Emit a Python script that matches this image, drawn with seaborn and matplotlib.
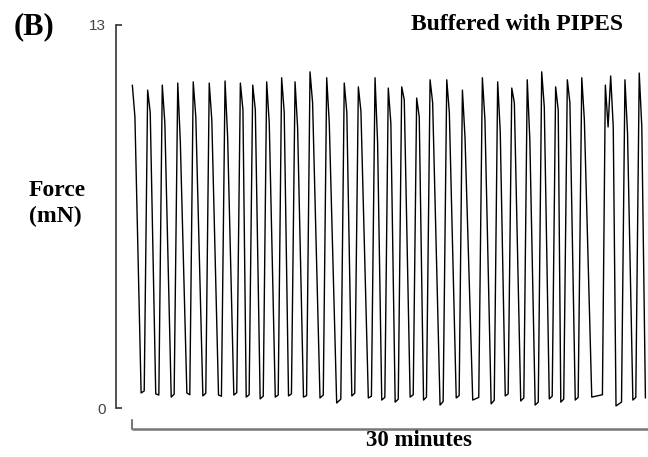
import matplotlib
matplotlib.use("Agg")
import matplotlib.pyplot as plt
import numpy as np
import pandas as pd
import seaborn as sns

# Contraction cycles of the muscle strip (time in minutes, force in mN)
peak_min = [0.02, 0.91, 1.76, 2.66, 3.56, 4.49, 5.41, 6.30, 7.02, 7.83,
            8.70, 9.48, 10.35, 11.32, 12.34, 13.16, 14.13, 14.90, 15.68, 16.55,
            17.33, 18.30, 19.21, 20.37, 21.26, 22.08, 22.98, 23.82, 24.63, 25.31,
            26.15, 27.83, 28.66, 29.49]
peak_mN = [10.96, 10.79, 10.96, 11.03, 11.07, 11.03, 11.10, 11.03, 10.96, 11.07,
           11.21, 11.07, 11.41, 11.21, 11.03, 10.90, 11.21, 10.86, 10.90, 10.52,
           11.14, 11.14, 10.79, 11.21, 11.07, 10.86, 11.14, 11.41, 10.90, 11.14,
           11.21, 11.27, 11.14, 11.37]
shoulder_min = [0.17, 1.06, 1.91, 2.81, 3.71, 4.64, 5.56, 6.45, 7.17, 7.98,
                8.85, 9.63, 10.50, 11.47, 12.49, 13.31, 14.28, 15.05, 15.83, 16.70,
                17.48, 18.45, 19.36, 20.52, 21.41, 22.23, 23.13, 23.97, 24.78, 25.46,
                26.30, 27.98, 28.81, 29.64]
shoulder_mN = [9.88, 10.03, 9.67, 9.03, 9.88, 9.78, 9.20, 10.12, 10.12, 9.67,
               10.03, 9.50, 10.36, 9.67, 10.03, 10.07, 9.00, 9.67, 10.46, 9.88,
               10.36, 10.03, 9.20, 9.78, 9.37, 10.36, 9.10, 10.22, 10.12, 10.36,
               9.78, 9.54, 9.33, 9.54]
# an early spike and dip preceding the main peak of one contraction
early_spike_min = [27.52, 27.68]
early_spike_mN = [10.96, 9.54]
# relaxation: start and end of each resting phase
rest_start_min = [0.53, 1.38, 2.28, 3.19, 4.12, 5.03, 5.92, 6.64, 7.45, 8.33,
                  9.10, 9.97, 10.93, 11.90, 12.78, 13.74, 14.52, 15.30, 16.17, 16.95,
                  17.91, 18.85, 19.81, 20.88, 21.70, 22.60, 23.44, 24.26, 24.93, 25.77,
                  26.73, 28.14, 29.12, 29.85]
rest_start_mN = [0.51, 0.48, 0.37, 0.51, 0.41, 0.44, 0.44, 0.37, 0.31, 0.37,
                 0.41, 0.37, 0.34, 0.17, 0.41, 0.34, 0.27, 0.20, 0.37, 0.27,
                 0.10, 0.34, 0.27, 0.14, 0.41, 0.24, 0.10, 0.31, 0.20, 0.27,
                 0.37, 0.07, 0.27, 0.34]
rest_end_min = [0.71, 1.56, 2.45, 3.36, 4.29, 5.20, 6.09, 6.81, 7.63, 8.50,
                9.27, 10.15, 11.12, 12.14, 12.95, 13.92, 14.70, 15.48, 16.35, 17.12,
                18.09, 19.02, 20.16, 21.06, 21.87, 22.78, 23.62, 24.43, 25.10, 25.94,
                27.35, 28.46, 29.29]
rest_end_mN = [0.58, 0.44, 0.47, 0.45, 0.50, 0.40, 0.52, 0.45, 0.40, 0.44,
               0.48, 0.42, 0.44, 0.30, 0.50, 0.40, 0.36, 0.30, 0.45, 0.37,
               0.22, 0.42, 0.36, 0.26, 0.48, 0.34, 0.20, 0.40, 0.30, 0.36,
               0.45, 0.20, 0.36]

y_ticks = [0, 13]
scale_bar_min = 30.0

trace = pd.DataFrame({
    "time": peak_min + shoulder_min + early_spike_min + rest_start_min + rest_end_min,
    "force": peak_mN + shoulder_mN + early_spike_mN + rest_start_mN + rest_end_mN,
}).sort_values("time").reset_index(drop=True)

sns.set_theme(style="white")
plt.rcParams["font.family"] = ["Liberation Serif", "DejaVu Serif"]

W, H = 648, 457
fig = plt.figure(figsize=(W / 100, H / 100), dpi=100)
fig.patch.set_facecolor("white")

ax_left, ax_right, ax_top, ax_bottom = 116, 648, 25, 408
ax = fig.add_axes([ax_left / W, 1 - ax_bottom / H,
                   (ax_right - ax_left) / W, (ax_bottom - ax_top) / H])
ax.set_facecolor("white")

sns.lineplot(data=trace, x="time", y="force", ax=ax, sort=False,
             estimator=None, color="black", linewidth=1.0, clip_on=False)

px_per_min = 17.2
ax.set_xlim((ax_left - 132) / px_per_min, (ax_right - 132) / px_per_min)
ax.set_ylim(0, 13)

for side in ("top", "right", "bottom"):
    ax.spines[side].set_visible(False)
ax.spines["left"].set_color("#333333")
ax.spines["left"].set_linewidth(1.2)

ax.set_xticks([])
ax.set_yticks(y_ticks)
ax.set_yticklabels([str(v) for v in y_ticks], family="Liberation Sans",
                   fontsize=11, color="#444444")
ax.tick_params(axis="y", direction="in", length=4.5, width=1.2,
               color="#333333", pad=7, left=True)
ax.set_xlabel("")
ax.set_ylabel("")

# Time scale bar below the trace
bar_y = -0.70
ax.plot([0, scale_bar_min], [bar_y, bar_y], color="#777777", lw=1.8,
        clip_on=False, solid_capstyle="butt")
ax.plot([0, 0], [bar_y, bar_y + 0.3], color="#777777", lw=1.5, clip_on=False)

fig.text(419 / W, 1 - 441 / H, "30 minutes", ha="center", va="center",
         fontsize=16.5, fontweight="bold", color="black")
fig.text(517 / W, 1 - 24 / H, "Buffered with PIPES", ha="center",
         va="center", fontsize=17, fontweight="bold", color="black")
fig.text(34 / W, 1 - 27 / H, "(B)", ha="center", va="center",
         fontsize=22, fontweight="bold", color="black")
fig.text(57 / W, 1 - 191 / H, "Force", ha="center", va="center",
         fontsize=17, fontweight="bold", color="black")
fig.text(55 / W, 1 - 216 / H, "(mN)", ha="center", va="center",
         fontsize=17, fontweight="bold", color="black")

fig.savefig("out.png", dpi=100, facecolor="white")
